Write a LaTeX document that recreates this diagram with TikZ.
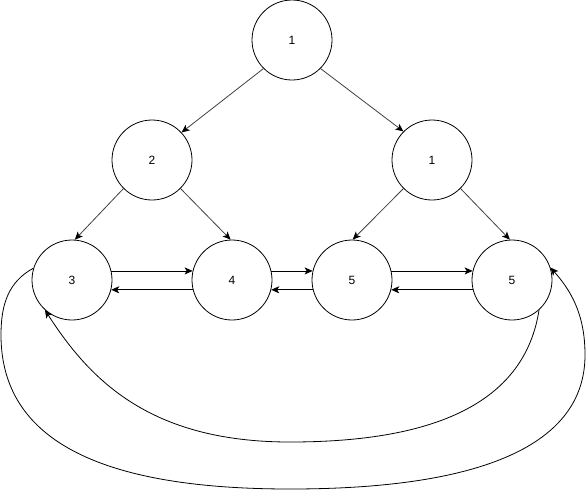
\documentclass[tikz,border=0pt]{standalone}
\usepackage{fontspec}
\setmainfont{Liberation Sans}
\usetikzlibrary{arrows.meta}
\tikzset{
	vert/.style={circle, draw=black, line width=0.8pt, minimum size=80pt, inner sep=0pt, font=\fontsize{12}{14}\selectfont},
	link/.style={-{Stealth[length=8pt, width=7pt, inset=2pt]}, line width=0.8pt},
	treelink/.style={-{Stealth[length=8pt, width=7pt, inset=2pt, color=black]}, line width=0.8pt, draw=black!75},
}

\begin{document}
\begin{tikzpicture}[x=1pt, y=-1pt]
	\useasboundingbox (0,0) rectangle (586,491);
	% tree
	\node[vert] (t) at (292,40) {1};
	\node[vert] (a) at (152,160) {2};
	\node[vert] (b) at (432,160) {1};
	\node[vert] (c3) at (72,280) {3};
	\node[vert] (c4) at (232,280) {4};
	\node[vert] (c5) at (352,280) {5};
	\node[vert] (c6) at (512,280) {5};
	\draw[treelink] (t.225) -- (a.43);
	\draw[treelink] (t.-45) -- (b.135);
	\draw[treelink] (a.225) -- (c3.86);
	\draw[treelink] (a.-45) -- (c4.92);
	\draw[treelink] (b.225) -- (c5.89);
	\draw[treelink] (b.-45) -- (c6.93);
	% list links
	\foreach \p/\q in {c3/c4, c4/c5, c5/c6} {
		\draw[link] (\p.13) -- (\q.167);
		\draw[link] (\q.194) -- (\p.-14);
	}
	% wrap-around links
	\draw[link] (c3.163) .. controls (8,282) and (1,305) .. (1,335)
		.. controls (1,450) and (120,489) .. (290,489)
		.. controls (470,489) and (585,450) .. (585,355)
		.. controls (585,320) and (575,295) .. (c6.18);
	\draw[link] (c6.-48) .. controls (525,400) and (440,442) .. (290,442)
		.. controls (150,442) and (90,380) .. (c3.228);
\end{tikzpicture}
\end{document}
